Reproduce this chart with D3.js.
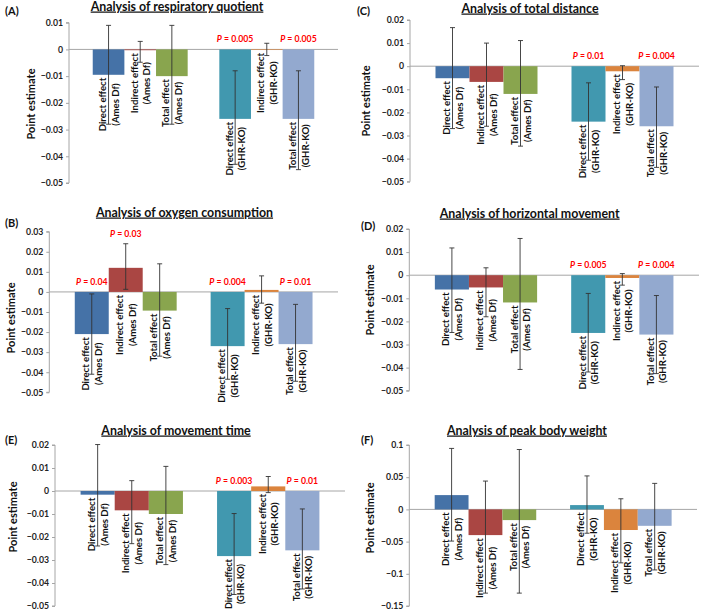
<!DOCTYPE html>
<html><head><meta charset="utf-8">
<script src="https://cdn.jsdelivr.net/npm/d3@7"></script>
<style>
html,body{margin:0;padding:0;background:#fff;}
svg{display:block;}
text{font-family:Lato,"Liberation Sans",Arial,sans-serif;}
</style></head>
<body>
<svg id="chart" width="701" height="611"></svg>
<script>
// ---------- DATA ----------
const categories = ["DA","IA","TA","gap","DG","IG","TG"];
const labelLine1 = ["Direct effect","Indirect effect","Total effect","","Direct effect","Indirect effect","Total effect"];
const labelLine2 = ["(Ames Df)","(Ames Df)","(Ames Df)","","(GHR-KO)","(GHR-KO)","(GHR-KO)"];
const barColors = ["#4572A7","#AA4643","#89A54E",null,"#4198AF","#DB843D","#93A9CF"];

const panelIds = ["(A)","(B)","(C)","(D)","(E)","(F)"];
const panelTitles = ["Analysis of respiratory quotient","Analysis of oxygen consumption","Analysis of total distance",
  "Analysis of horizontal movement","Analysis of movement time","Analysis of peak body weight"];

// estimates, lower and upper CI (gap slot = null)
const estA = [-0.0095,-0.0003,-0.010,null,-0.026,-0.0002,-0.026];
const loA  = [-0.028,-0.0048,-0.028,null,-0.043,-0.0023,-0.045];
const hiA  = [0.009,0.003,0.009,null,-0.008,0.0023,-0.008];
const pA   = [null,null,null,null,"0.005",null,"0.005"];

const estB = [-0.021,0.012,-0.0093,null,-0.027,0.001,-0.026];
const loB  = [-0.041,0.0013,-0.032,null,-0.0435,-0.0056,-0.0445];
const hiB  = [-0.001,0.024,0.014,null,-0.0083,0.008,-0.0062];
const pB   = ["0.04","0.03",null,null,"0.004",null,"0.01"];

const estC = [-0.0052,-0.0068,-0.012,null,-0.024,-0.0022,-0.026];
const loC  = [-0.027,-0.026,-0.0346,null,-0.0407,-0.0058,-0.0438];
const hiC  = [0.0167,0.010,0.0111,null,-0.0072,0.0002,-0.009];
const pC   = [null,null,null,null,"0.01",null,"0.004"];

const estD = [-0.0062,-0.0053,-0.0118,null,-0.025,-0.0012,-0.0257];
const loD  = [-0.0248,-0.018,-0.0408,null,-0.0419,-0.0043,-0.0426];
const hiD  = [0.0118,0.0032,0.0159,null,-0.0079,0.0007,-0.0088];
const pD   = [null,null,null,null,"0.005",null,"0.004"];

const estE = [-0.0016,-0.0084,-0.010,null,-0.0283,0.002,-0.0258];
const loE  = [-0.0239,-0.0229,-0.032,null,-0.045,-0.0007,-0.0426];
const hiE  = [0.0202,0.0045,0.0107,null,-0.0098,0.0063,-0.0078];
const pE   = [null,null,null,null,"0.003",null,"0.01"];

const estF = [0.0222,-0.0399,-0.0166,null,0.0067,-0.032,-0.0255];
const loF  = [-0.0492,-0.130,-0.130,null,-0.037,-0.083,-0.094];
const hiF  = [0.0947,0.044,0.093,null,0.052,0.0165,0.0404];
const pF   = [null,null,null,null,null,null,null];

const ticksSmall = [0.01,0,-0.01,-0.02,-0.03,-0.04,-0.05];
const ticksSmallLabels = ["0.01","0","−0.01","−0.02","−0.03","−0.04","−0.05"];
const ticksB = [0.03,0.02,0.01,0,-0.01,-0.02,-0.03,-0.04,-0.05];
const ticksBLabels = ["0.03","0.02","0.01","0","−0.01","−0.02","−0.03","−0.04","−0.05"];
const ticksMid = [0.02,0.01,0,-0.01,-0.02,-0.03,-0.04,-0.05];
const ticksMidLabels = ["0.02","0.01","0","−0.01","−0.02","−0.03","−0.04","−0.05"];
const ticksF = [0.1,0.05,0,-0.05,-0.1,-0.15];
const ticksFLabels = ["0.1","0.05","0","−0.05","−0.1","−0.15"];

// ---------- LAYOUT ----------
const panels = [
  {id:0, est:estA, lo:loA, hi:hiA, p:pA, ticks:ticksSmall, tl:ticksSmallLabels, x0:69, x1:338, yT:22.7, yB:183, titleX:177, titleY:10.5, idX:5, idY:15, ylX:30, ylY:104},
  {id:1, est:estB, lo:loB, hi:hiB, p:pB, ticks:ticksB, tl:ticksBLabels, x0:49.3, x1:338, yT:231.7, yB:392.3, titleX:184.5, titleY:216.5, idX:5, idY:227, ylX:10, ylY:318},
  {id:2, est:estC, lo:loC, hi:hiC, p:pC, ticks:ticksMid, tl:ticksMidLabels, x0:410, x1:699, yT:20, yB:181.7, titleX:530, titleY:12.5, idX:357, idY:15, ylX:365, ylY:101},
  {id:3, est:estD, lo:loD, hi:hiD, p:pD, ticks:ticksMid, tl:ticksMidLabels, x0:409.3, x1:699, yT:229, yB:390.7, titleX:529.7, titleY:217.5, idX:361, idY:230, ylX:369, ylY:300},
  {id:4, est:estE, lo:loE, hi:hiE, p:pE, ticks:ticksMid, tl:ticksMidLabels, x0:55, x1:345, yT:445, yB:606, titleX:176, titleY:434.5, idX:5, idY:444, ylX:12, ylY:517},
  {id:5, est:estF, lo:loF, hi:hiF, p:pF, ticks:ticksF, tl:ticksFLabels, x0:409.3, x1:697, yT:445, yB:606, titleX:527, titleY:434.5, idX:361, idY:444, ylX:369, ylY:518}
];

const svg = d3.select("#chart");
const H = 611;

panels.forEach(P => {
  const g = svg.append("g");
  const x = d3.scaleBand().domain(categories).range([P.x0, P.x1]).paddingInner(0).paddingOuter(0.75);
  const y = d3.scaleLinear().domain([d3.min(P.ticks), d3.max(P.ticks)]).range([P.yB, P.yT]);

  // y axis
  const axis = d3.axisLeft(y).tickValues(P.ticks).tickSize(3).tickPadding(3)
    .tickFormat((d,i) => P.tl[i]);
  const ag = g.append("g").attr("transform", `translate(${P.x0},0)`).call(axis);
  ag.select(".domain").attr("stroke","#a6a6a6").attr("d", `M-3,${P.yT}H0V${P.yB}H-3`);
  ag.selectAll(".tick line").attr("stroke","#a6a6a6");
  ag.selectAll(".tick text").attr("font-family","Lato, 'Liberation Sans', sans-serif")
    .attr("font-size","8.7px").attr("font-weight","bold").attr("fill","#222");

  // zero line
  g.append("line").attr("x1",P.x0).attr("x2",P.x1).attr("y1",y(0)).attr("y2",y(0))
    .attr("stroke","#a6a6a6").attr("stroke-width",1);

  const idx = categories.map((c,i)=>i).filter(i => P.est[i] !== null);

  // bars
  g.selectAll("rect.bar").data(idx).enter().append("rect")
    .attr("x", i => x(categories[i]))
    .attr("width", x.bandwidth())
    .attr("y", i => y(Math.max(0, P.est[i])))
    .attr("height", i => Math.max(0.6, Math.abs(y(P.est[i]) - y(0))))
    .attr("fill", i => barColors[i]);

  // category labels
  idx.forEach(i => {
    const cx = x(categories[i]) + x.bandwidth()/2;
    const top = y(Math.min(0, P.est[i])) + 3;
    const lg = g.append("g").attr("transform", `translate(${cx},${top}) rotate(-90)`);
    let fs = 9.6;
    const t1 = lg.append("text").text(labelLine1[i]).attr("y",-6).attr("dominant-baseline","central")
      .attr("font-size",fs+"px").attr("font-weight","bold").attr("fill","#111").attr("text-anchor","middle");
    const t2 = lg.append("text").text(labelLine2[i]).attr("y",6.6).attr("dominant-baseline","central")
      .attr("font-size",fs+"px").attr("font-weight","bold").attr("fill","#111").attr("text-anchor","middle");
    let L = Math.max(t1.node().getComputedTextLength(), t2.node().getComputedTextLength());
    const room = H - 2 - top;
    if (L > room) {
      fs = fs * room / L;
      t1.attr("font-size",fs+"px"); t2.attr("font-size",fs+"px");
      L = Math.max(t1.node().getComputedTextLength(), t2.node().getComputedTextLength());
    }
    t1.attr("x", -L/2); t2.attr("x", -L/2);
  });

  // error bars
  idx.forEach(i => {
    const cx = x(categories[i]) + x.bandwidth()/2;
    const eg = g.append("g").attr("stroke","#333").attr("stroke-width",0.9);
    eg.append("line").attr("x1",cx).attr("x2",cx).attr("y1",y(P.hi[i])).attr("y2",y(P.lo[i]));
    eg.append("line").attr("x1",cx-2.5).attr("x2",cx+2.5).attr("y1",y(P.hi[i])).attr("y2",y(P.hi[i]));
    eg.append("line").attr("x1",cx-2.5).attr("x2",cx+2.5).attr("y1",y(P.lo[i])).attr("y2",y(P.lo[i]));
  });

  // P labels
  idx.forEach(i => {
    if (!P.p[i]) return;
    const cx = x(categories[i]) + x.bandwidth()/2;
    const t = g.append("text").attr("x",cx).attr("y", y(Math.max(0, P.hi[i])) - 7)
      .attr("text-anchor","middle").attr("font-size","8.7px").attr("font-weight","bold").attr("fill","#ff0000");
    t.append("tspan").attr("font-style","italic").text("P");
    t.append("tspan").text(" = " + P.p[i]);
  });

  // title
  g.append("text").attr("x",P.titleX).attr("y",P.titleY).attr("text-anchor","middle")
    .attr("font-size","12.4px").attr("font-weight","bold").attr("fill","#111")
    .style("text-decoration","underline").text(panelTitles[P.id]);
  // panel id
  g.append("text").attr("x",P.idX).attr("y",P.idY).attr("font-size","11px").attr("font-weight","bold")
    .attr("fill","#111").text(panelIds[P.id]);
  // y label
  g.append("text").attr("transform",`translate(${P.ylX},${P.ylY}) rotate(-90)`)
    .attr("text-anchor","middle").attr("dominant-baseline","central")
    .attr("font-size","11px").attr("font-weight","bold").attr("fill","#111").text("Point estimate");
});
</script>
</body></html>
